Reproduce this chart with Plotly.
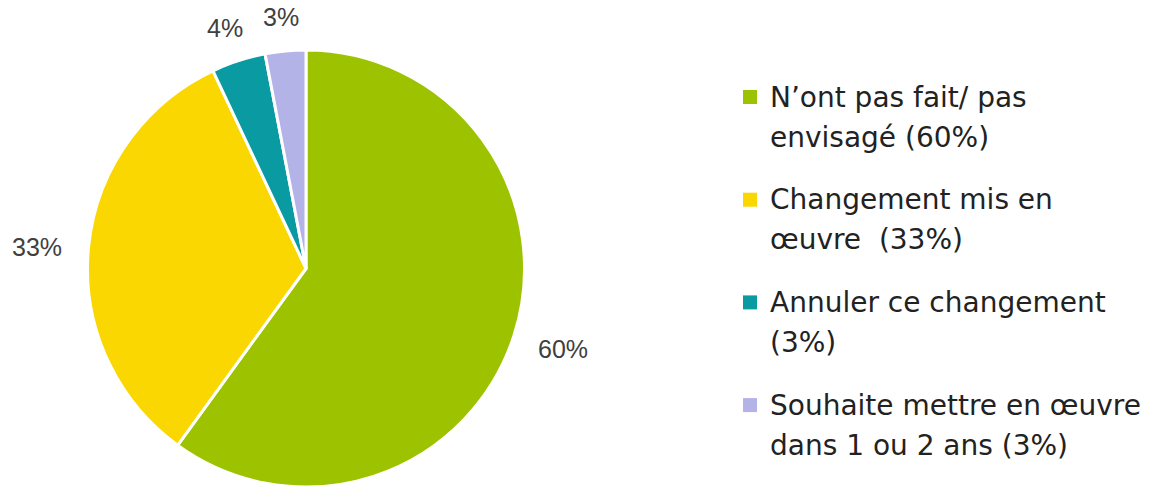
import math
import plotly.graph_objects as go

# Survey answers (slice order, clockwise from 12 o'clock)
categories = [
    "N’ont pas fait/ pas envisagé",
    "Changement mis en œuvre",
    "Annuler ce changement",
    "Souhaite mettre en œuvre dans 1 ou 2 ans",
]
values = [60, 33, 4, 3]
legend_lines = [
    ["N’ont pas fait/ pas", "envisagé (60%)"],
    ["Changement mis en", "œuvre  (33%)"],
    ["Annuler ce changement", "(3%)"],
    ["Souhaite mettre en œuvre", "dans 1 ou 2 ans (3%)"],
]
colors = ["#9DC300", "#FAD700", "#0A9AA2", "#B3B3E8"]

W, H = 1155, 487
CX, CY, R = 306, 268.5, 218.5       # pie centre / radius in pixels
LABEL_GAP = 27                      # distance from rim to data labels
LABEL_FONT = dict(family="Liberation Sans, Arial, sans-serif", size=25, color="#404040")
LEGEND_FONT = dict(family="DejaVu Sans, sans-serif", size=28, color="#222222")


def px_x(x):
    return x / W


def px_y(y):
    return 1 - y / H


fig = go.Figure(
    go.Pie(
        labels=categories,
        values=values,
        sort=False,
        direction="clockwise",
        rotation=0,
        marker=dict(colors=colors, line=dict(color="white", width=3)),
        textinfo="none",
        hoverinfo="label+percent",
        showlegend=False,
        domain=dict(x=[px_x(CX - R), px_x(CX + R)], y=[max(0, px_y(CY + R)), px_y(CY - R)]),
    )
)

annotations = []
shapes = []

# Data labels placed just outside the rim at each slice's mid-angle
total = sum(values)
start = 0.0
for v in values:
    sweep = 360.0 * v / total
    mid = math.radians(start + sweep / 2)
    start += sweep
    text = f"{v}%"
    w_est = LABEL_FONT["size"] * (0.556 * (len(text) - 1) + 0.889)
    h_est = LABEL_FONT["size"] * 0.72
    rr = R + LABEL_GAP
    x = CX + rr * math.sin(mid) + (w_est / 2) * math.sin(mid)
    y = CY - rr * math.cos(mid) - (h_est / 2) * math.cos(mid) + 2
    annotations.append(dict(
        x=px_x(x), y=px_y(y), xref="paper", yref="paper",
        text=text, showarrow=False, xanchor="center", yanchor="middle",
        font=LABEL_FONT,
    ))

# Legend: coloured square + two lines of text per entry
LEG_SQ_X, LEG_TXT_X = 743, 768
LEG_TOP, LEG_STEP, LINE_STEP, SQ = 97, 102.7, 40, 14
for i, (lines, col) in enumerate(zip(legend_lines, colors)):
    yc = LEG_TOP + i * LEG_STEP
    shapes.append(dict(
        type="rect", xref="paper", yref="paper",
        x0=px_x(LEG_SQ_X), x1=px_x(LEG_SQ_X + SQ),
        y0=px_y(yc + SQ / 2), y1=px_y(yc - SQ / 2),
        fillcolor=col, line=dict(width=0),
    ))
    for j, line in enumerate(lines):
        annotations.append(dict(
            x=px_x(LEG_TXT_X), y=px_y(yc + j * LINE_STEP), xref="paper", yref="paper",
            text=line, showarrow=False, xanchor="left", yanchor="middle",
            font=LEGEND_FONT,
        ))

fig.update_layout(
    width=W, height=H,
    margin=dict(l=0, r=0, t=0, b=0),
    paper_bgcolor="white", plot_bgcolor="white",
    annotations=annotations, shapes=shapes,
)

fig.write_html("out.html")
